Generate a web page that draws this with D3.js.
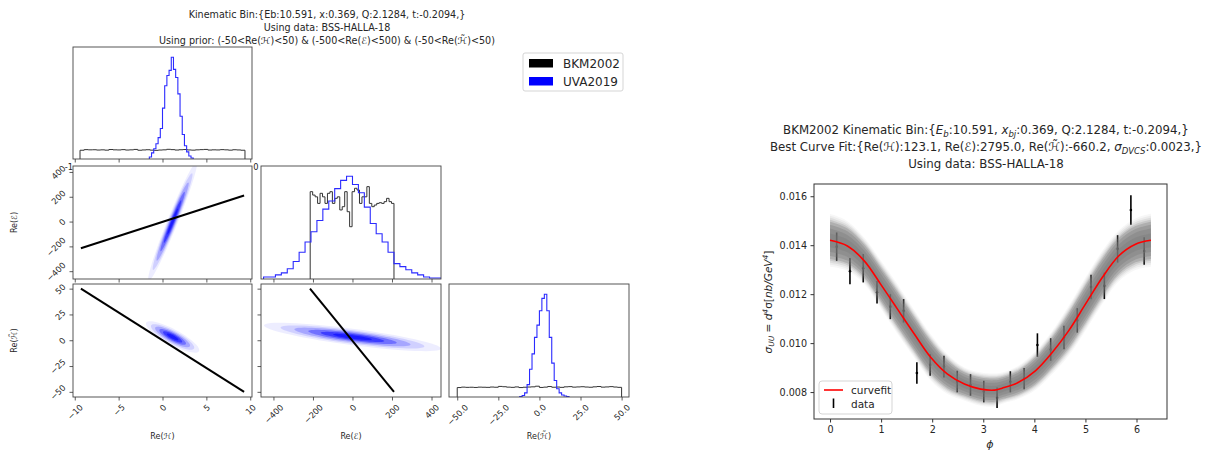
<!DOCTYPE html>
<html>
<head>
<meta charset="utf-8">
<script src="https://cdn.jsdelivr.net/npm/d3@7"></script>
<style>
  body { margin: 0; background: #fff; }
  text { font-family: "DejaVu Sans", sans-serif; fill: #262626; }
</style>
</head>
<body>
<svg id="chart" width="1208" height="450"></svg>
<script>
// ---------- corner plot data ----------
const paramLabels = ["Re(\u210B)", "Re(\u2130)", "Re(\u210B\u0303)"];
const paramDomains = [[-10.2, 10.2], [-463, 448], [-55, 54.5]];
const paramTicks = [[-10, -5, 0, 5, 10], [-400, -200, 0, 200, 400], [-50, -25, 0, 25, 50]];

// histograms: relative counts, peak of UVA = 100
const bkmHRange = [-9.4, 9.4];
const bkmHCounts = [8.6, 9.2, 9.0, 9.1, 8.8, 9.0, 8.7, 9.3, 9.0, 8.9, 9.2, 8.8, 9.0, 9.4, 8.6, 8.9, 9.1, 8.7, 8.5, 8.8,
  9.0, 9.5, 9.2, 8.8, 9.1, 9.3, 8.9, 8.7, 9.0, 9.2, 9.4, 8.8, 9.0, 8.9, 9.2, 9.0, 8.7, 9.1, 8.9, 8.6];
const uvaHRange = [-1.5, 3.5];
const uvaHCounts = [2, 6, 10, 15, 21, 30, 50, 72, 82, 87, 100, 88, 80, 64, 42, 24, 13, 7, 3, 1];

const bkmERange = [-214, 210];
const bkmECounts = [85, 81.7, 80, 73.6, 83.4, 80, 73.6, 83.4, 85, 73.6, 78.5, 80, 67.2, 70.4, 85, 65.5, 50.9,
  85, 88.3, 86.6, 73.6, 80, 80, 89.9, 73.6, 70.4, 72, 73.6, 74.3, 73.6, 75.3, 78.5, 75.3, 73.6];
const uvaERange = [-450, 450];
const uvaECounts = [2, 2, 4, 6, 10, 17, 26, 36, 46, 57, 68, 76, 88, 96, 100, 92, 84, 70, 54, 44, 36, 26, 15, 12, 9, 6, 4, 2, 1, 1];

const bkmHtRange = [-50, 50];
const bkmHtCounts = [9.2, 9.6, 9.4, 9.5, 9.3, 9.6, 9.5, 9.4, 9.7, 9.5, 10.3, 10.0, 9.6, 9.4, 9.8, 9.2, 9.5, 9.7, 9.9, 10.5,
  9.3, 9.6, 10.2, 9.5, 9.7, 9.4, 9.9, 10.1, 9.6, 9.8, 10.0, 9.7, 9.5, 9.9, 10.2, 9.6, 9.8, 10.1, 9.7, 9.4];
const uvaHtRange = [-12, 18];
const uvaHtCounts = [0.5, 1.5, 4, 12, 27, 42, 58, 70, 84, 96, 100, 84, 58, 33, 16, 8, 4, 2, 1, 0.5];

// BKM2002 samples lie on a straight segment (ends in H, E, Ht)
const bkmLineH = [-9.3, 9.3];
const bkmLineE = [-215, 210];
const bkmLineHt = [50, -50];

// UVA2019 sample clouds: centre and 1-sigma principal vectors, data units
const uvaCenter = [1.15, 0, 3.2];
const cloudHE = { major: [0.85, 150], minor: [0.2, 0] };
const cloudHHt = { major: [0.95, -4.0], minor: [0, 2.6] };
const cloudEHt = { major: [140, -3.5], minor: [0, 2.5] };

// ---------- curve fit data ----------
const fitPhi = [0, 0.34, 0.67, 0.99, 1.32, 1.65, 1.97, 2.30, 2.63, 2.95, 3.22, 3.37, 3.69, 4.02, 4.35, 4.67, 5.0, 5.33, 5.65, 5.98, 6.283];
const fitVal = [0.01420, 0.01397, 0.01336, 0.01241, 0.01139, 0.01037, 0.00942, 0.00873, 0.00833, 0.00812, 0.00808,
  0.00816, 0.00840, 0.00887, 0.00962, 0.01050, 0.01159, 0.01268, 0.01356, 0.01404, 0.01420];
const bandHalf = [0.0008, 0.00075, 0.0007, 0.00072, 0.00075, 0.00072, 0.0007, 0.0006, 0.0005, 0.0005, 0.0005,
  0.00047, 0.0005, 0.00058, 0.00065, 0.00075, 0.0008, 0.0008, 0.00077, 0.00078, 0.0008];

const dataPhi = [0.13, 0.39, 0.65, 0.92, 1.18, 1.44, 1.70, 1.96, 2.23, 2.49, 2.75, 3.01, 3.27, 3.53, 3.80, 4.06,
  4.32, 4.58, 4.84, 5.11, 5.37, 5.63, 5.89, 6.15];
const dataVal = [0.01394, 0.01294, 0.01306, 0.01208, 0.01149, 0.01132, 0.00878, 0.00911, 0.00904, 0.00843, 0.00829, 0.00802,
  0.00777, 0.00842, 0.00855, 0.00992, 0.00974, 0.01023, 0.01093, 0.01229, 0.01234, 0.01385, 0.01544, 0.01376];
const dataErr = [0.00058, 0.00054, 0.00058, 0.00046, 0.00051, 0.00048, 0.00044, 0.00044, 0.00044, 0.00044, 0.00044, 0.00044,
  0.00042, 0.00043, 0.00043, 0.00048, 0.00046, 0.00048, 0.0005, 0.0005, 0.00054, 0.00056, 0.0006, 0.00056];
const xTicksPhi = [0, 1, 2, 3, 4, 5, 6];
const yTicksSigma = [0.008, 0.010, 0.012, 0.014, 0.016];

const svg = d3.select("#chart");
svg.append("rect").attr("width", 1208).attr("height", 450).attr("fill", "#fff");

// ---------- corner plot ----------
const cols = [[73, 252], [261, 441], [449, 629]];
const rows = [[47, 159], [166, 279], [284, 397]];
const xs = paramDomains.map((d, i) => d3.scaleLinear().domain(d).range(cols[i]));
const ys = paramDomains.map((d, i) => d3.scaleLinear().domain(d).range([rows[i][1], rows[i][0]]));
const bkmHists = [[bkmHRange, bkmHCounts], [bkmERange, bkmECounts], [bkmHtRange, bkmHtCounts]];
const uvaHists = [[uvaHRange, uvaHCounts], [uvaERange, uvaECounts], [uvaHtRange, uvaHtCounts]];
const bkmLines = [bkmLineH, bkmLineE, bkmLineHt];
const clouds = { "1-0": cloudHE, "2-0": cloudHHt, "2-1": cloudEHt };
const tickFont = 8.3;

function stepPoints(range, counts) {
  const n = counts.length, pts = [];
  const edge = k => range[0] + (range[1] - range[0]) * k / n;
  pts.push([edge(0), 0]);
  counts.forEach((c, k) => { pts.push([edge(k), c]); pts.push([edge(k + 1), c]); });
  pts.push([edge(n), 0]);
  return pts;
}

function rotateLabels(axisG, side) {
  axisG.selectAll(".tick text").each(function() {
    const w = this.getComputedTextLength();
    const half = (w + tickFont * 0.8) / (2 * Math.SQRT2);
    const t = d3.select(this).attr("text-anchor", "middle").attr("dy", "0.35em");
    if (side === "bottom") {
      const cy = 6.5 + half;
      t.attr("x", 0).attr("y", cy).attr("transform", `rotate(-45,0,${cy})`);
    } else {
      const cx = -(6.5 + half);
      t.attr("x", cx).attr("y", 0).attr("transform", `rotate(-45,${cx},0)`);
    }
  });
}

function styleAxis(axisG) {
  axisG.attr("font-family", null).attr("font-size", tickFont);
  axisG.select(".domain").remove();
  axisG.selectAll(".tick line").attr("stroke", "#333").attr("stroke-width", 0.8);
}

function drawPanel(i, j) {
  const [x0, x1] = cols[j], [y0, y1] = rows[i];
  const g = svg.append("g");
  const clipId = `clip-${i}-${j}`;
  svg.append("clipPath").attr("id", clipId)
    .append("rect").attr("x", x0).attr("y", y0).attr("width", x1 - x0).attr("height", y1 - y0);
  g.append("rect").attr("x", x0).attr("y", y0).attr("width", x1 - x0).attr("height", y1 - y0).attr("fill", "#fff");
  const inner = g.append("g").attr("clip-path", `url(#${clipId})`);
  const x = xs[j];

  if (i === j) {
    const yh = d3.scaleLinear().domain([0, 110]).range([y1, y0]);
    const line = d3.line().x(d => x(d[0])).y(d => yh(d[1]));
    inner.append("path").attr("d", line(stepPoints(...bkmHists[i])))
      .attr("fill", "none").attr("stroke", "#333").attr("stroke-width", 1);
    inner.append("path").attr("d", line(stepPoints(...uvaHists[i])))
      .attr("fill", "none").attr("stroke", "#2b2bff").attr("stroke-width", 1.1);
  } else {
    const y = ys[i];
    const c = clouds[`${i}-${j}`];
    const cx = uvaCenter[j], cy = uvaCenter[i];
    const levels = [3.2, 2.6, 2.1, 1.6, 1.15, 0.7];
    const alphas = [0.07, 0.12, 0.2, 0.32, 0.45, 0.55];
    const angles = d3.range(0, 64).map(k => k / 64 * 2 * Math.PI);
    const ell = d3.line().curve(d3.curveLinearClosed).x(d => x(d[0])).y(d => y(d[1]));
    levels.forEach((k, li) => {
      const pts = angles.map(t => [
        cx + k * (Math.cos(t) * c.major[0] + Math.sin(t) * c.minor[0]),
        cy + k * (Math.cos(t) * c.major[1] + Math.sin(t) * c.minor[1])
      ]);
      inner.append("path").attr("d", ell(pts)).attr("fill", "#0000ff").attr("fill-opacity", alphas[li]);
    });
    const seg = [[bkmLines[j][0], bkmLines[i][0]], [bkmLines[j][1], bkmLines[i][1]]];
    inner.append("path").attr("d", d3.line().x(d => x(d[0])).y(d => y(d[1]))(seg))
      .attr("stroke", "#000").attr("stroke-width", 2).attr("fill", "none");
  }

  g.append("rect").attr("x", x0).attr("y", y0).attr("width", x1 - x0).attr("height", y1 - y0)
    .attr("fill", "none").attr("stroke", "#444").attr("stroke-width", 0.9);

  // bottom ticks
  const fmtX = (i === 2 && j === 2) ? d3.format(".1f") : d3.format("d");
  const ax = g.append("g").attr("transform", `translate(0,${y1})`)
    .call(d3.axisBottom(x).tickValues(paramTicks[j]).tickSize(3.5).tickFormat(i === 2 ? fmtX : () => ""));
  styleAxis(ax);
  if (i === 2) rotateLabels(ax, "bottom");

  // left ticks for off-diagonal
  if (i !== j) {
    const ay = g.append("g").attr("transform", `translate(${x0},0)`)
      .call(d3.axisLeft(ys[i]).tickValues(paramTicks[i]).tickSize(3.5).tickFormat(j === 0 ? d3.format("d") : () => ""));
    styleAxis(ay);
    if (j === 0) rotateLabels(ay, "left");
  }
}

drawPanel(0, 0);
// leftovers of hidden labels peeking between panels
svg.append("text").attr("x", 69).attr("y", 170).attr("font-size", tickFont).attr("text-anchor", "middle").text("-1");
svg.append("text").attr("x", 256).attr("y", 170).attr("font-size", tickFont).attr("text-anchor", "middle").text("0");
drawPanel(1, 0); drawPanel(1, 1);
drawPanel(2, 0); drawPanel(2, 1); drawPanel(2, 2);

// axis labels
[1, 2].forEach(i => {
  const cy = (rows[i][0] + rows[i][1]) / 2;
  svg.append("text").attr("transform", `translate(14,${cy}) rotate(-90)`)
    .attr("text-anchor", "middle").attr("dy", "0.35em").attr("font-size", 8).text(paramLabels[i]);
});
[0, 1, 2].forEach(j => {
  svg.append("text").attr("x", (cols[j][0] + cols[j][1]) / 2).attr("y", 436)
    .attr("text-anchor", "middle").attr("dy", "0.35em").attr("font-size", 8).text(paramLabels[j]);
});

// left title
const leftTitle = [
  "Kinematic Bin:{Eb:10.591, x:0.369, Q:2.1284, t:-0.2094,}",
  "Using data: BSS-HALLA-18",
  "Using prior: (-50<Re(\u210B)<50) & (-500<Re(\u2130)<500) & (-50<Re(\u210B\u0303)<50)"
];
leftTitle.forEach((t, k) => {
  svg.append("text").attr("x", 327).attr("y", 15 + k * 13).attr("dy", "0.35em")
    .attr("text-anchor", "middle").attr("font-size", 9.6).text(t);
});

// left legend
const legendNames = ["BKM2002", "UVA2019"];
const legendColors = ["#000", "#0000ff"];
const lg = svg.append("g");
lg.append("rect").attr("x", 523).attr("y", 53).attr("width", 100).attr("height", 38).attr("rx", 2)
  .attr("fill", "#fff").attr("stroke", "#d5d5d5");
legendNames.forEach((n, k) => {
  lg.append("rect").attr("x", 529).attr("y", 59 + k * 18).attr("width", 24).attr("height", 8.5).attr("fill", legendColors[k]);
  lg.append("text").attr("x", 563).attr("y", 63.5 + k * 18).attr("dy", "0.35em").attr("font-size", 12).text(n);
});

// ---------- curve fit plot ----------
const rx = d3.scaleLinear().domain([-0.314, 6.597]).range([814, 1167]);
const ry = d3.scaleLinear().domain([0.0069, 0.0165]).range([419, 184]);
const rg = svg.append("g");
svg.append("clipPath").attr("id", "clip-fit").append("rect")
  .attr("x", 814).attr("y", 184).attr("width", 353).attr("height", 235);
const fitG = rg.append("g").attr("clip-path", "url(#clip-fit)");

// error bars
dataPhi.forEach((p, k) => {
  fitG.append("line").attr("x1", rx(p)).attr("x2", rx(p))
    .attr("y1", ry(dataVal[k] - dataErr[k])).attr("y2", ry(dataVal[k] + dataErr[k]))
    .attr("stroke", "#000").attr("stroke-width", 1.6);
  fitG.append("circle").attr("cx", rx(p)).attr("cy", ry(dataVal[k])).attr("r", 1.3).attr("fill", "#000");
});

// sample band: stacked translucent layers give the soft edge
const bandLayers = [[1.35, 0.06], [1.25, 0.08], [1.15, 0.12], [1.05, 0.2], [0.95, 0.3], [0.8, 0.35], [0.6, 0.35], [0.35, 0.3]];
bandLayers.forEach(([f, a]) => {
  const area = d3.area().curve(d3.curveCatmullRom)
    .x((d, k) => rx(fitPhi[k]))
    .y0((d, k) => ry(fitVal[k] - f * bandHalf[k]))
    .y1((d, k) => ry(fitVal[k] + f * bandHalf[k]));
  fitG.append("path").attr("d", area(fitPhi)).attr("fill", "#777").attr("fill-opacity", a);
});

const fitLine = d3.line().curve(d3.curveCatmullRom).x((d, k) => rx(fitPhi[k])).y((d, k) => ry(fitVal[k]));
fitG.append("path").attr("d", fitLine(fitPhi)).attr("fill", "none").attr("stroke", "#ff0000").attr("stroke-width", 1.6);

rg.append("rect").attr("x", 814).attr("y", 184).attr("width", 353).attr("height", 235)
  .attr("fill", "none").attr("stroke", "#333").attr("stroke-width", 1);

const rax = rg.append("g").attr("transform", "translate(0,419)")
  .call(d3.axisBottom(rx).tickValues(xTicksPhi).tickSize(3.5).tickPadding(3.5).tickFormat(d3.format("d")));
const ray = rg.append("g").attr("transform", "translate(814,0)")
  .call(d3.axisLeft(ry).tickValues(yTicksSigma).tickSize(3.5).tickPadding(3.5).tickFormat(d3.format(".3f")));
[rax, ray].forEach(a => {
  a.attr("font-family", null).attr("font-size", 9.6);
  a.select(".domain").remove();
  a.selectAll(".tick line").attr("stroke", "#333");
});

// right title
const rt = rg.append("g").attr("font-size", 11.8).attr("text-anchor", "middle");
function addLine(y, parts) {
  const t = rt.append("text").attr("x", 986).attr("y", y).attr("dy", "0.35em");
  parts.forEach(p => {
    const s = t.append("tspan").text(p.t);
    if (p.i) s.attr("font-style", "italic");
    if (p.sub) s.attr("font-size", 8.5).attr("dy", 3);
    if (p.back) s.attr("dy", -3);
  });
}
addLine(130, [{ t: "BKM2002 Kinematic Bin:{" }, { t: "E", i: 1 }, { t: "b", i: 1, sub: 1 }, { t: ":10.591, ", back: 1 },
  { t: "x", i: 1 }, { t: "bj", i: 1, sub: 1 }, { t: ":0.369, Q:2.1284, t:-0.2094,}", back: 1 }]);
addLine(147, [{ t: "Best Curve Fit:{Re(" }, { t: "\u210B", i: 1 }, { t: "):123.1, Re(" }, { t: "\u2130", i: 1 },
  { t: "):2795.0, Re(" }, { t: "\u210B\u0303", i: 1 }, { t: "):-660.2, " }, { t: "\u03C3", i: 1 },
  { t: "DVCS", i: 1, sub: 1 }, { t: ":0.0023,}", back: 1 }]);
addLine(164, [{ t: "Using data: BSS-HALLA-18" }]);

// axis labels
const yl = rg.append("text").attr("transform", "translate(768,302) rotate(-90)")
  .attr("text-anchor", "middle").attr("dy", "0.35em").attr("font-size", 10.5);
[["\u03C3", 1], ["UU", 2], [" = ", 3], ["d", 1], ["4", 4], ["\u03C3[", 5], ["nb/GeV", 1], ["4", 4], ["]", 5]].forEach(([s, kind]) => {
  const ts = yl.append("tspan").text(s).attr("font-style", kind === 3 || kind === 5 ? null : "italic");
  if (kind === 2) ts.attr("font-size", 7.5).attr("dy", 2.5);
  if (kind === 3) ts.attr("dy", -2.5);
  if (kind === 4) ts.attr("font-size", 7.5).attr("dy", -4);
  if (kind === 5) ts.attr("dy", 4);
});
rg.append("text").attr("x", 990).attr("y", 444).attr("text-anchor", "middle").attr("dy", "0.35em")
  .attr("font-size", 11).attr("font-style", "italic").text("\u03D5");

// right legend
const rl = rg.append("g");
rl.append("rect").attr("x", 819).attr("y", 381).attr("width", 73).attr("height", 33).attr("rx", 3)
  .attr("fill", "#fff").attr("fill-opacity", 0.8).attr("stroke", "#d5d5d5");
rl.append("line").attr("x1", 824).attr("x2", 843).attr("y1", 390).attr("y2", 390).attr("stroke", "#ff0000").attr("stroke-width", 1.6);
rl.append("line").attr("x1", 833.5).attr("x2", 833.5).attr("y1", 398.5).attr("y2", 408).attr("stroke", "#000").attr("stroke-width", 1.6);
rl.append("text").attr("x", 851).attr("y", 390).attr("dy", "0.35em").attr("font-size", 10.5).text("curvefit");
rl.append("text").attr("x", 851).attr("y", 404).attr("dy", "0.35em").attr("font-size", 10.5).text("data");
</script>
</body>
</html>
